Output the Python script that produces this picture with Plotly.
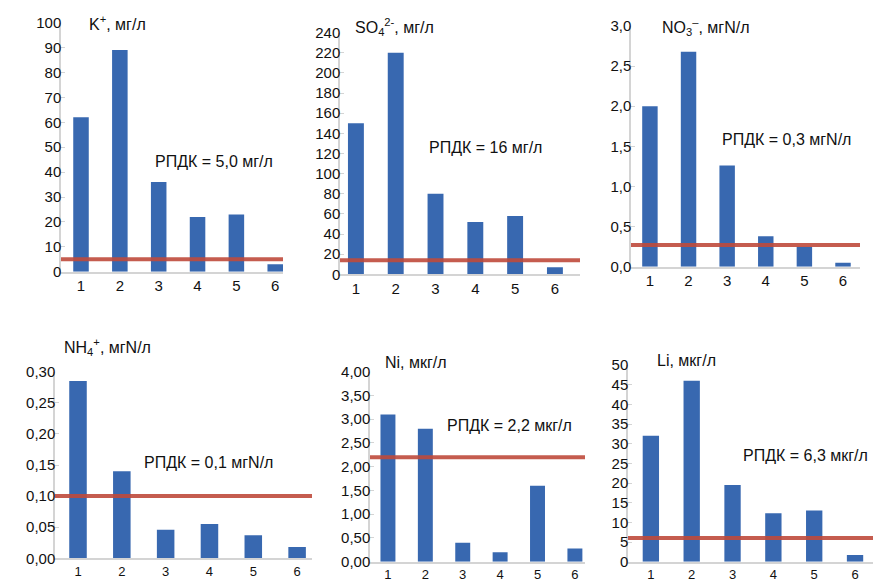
import plotly.graph_objects as go

W, H = 873, 582

stations = [1, 2, 3, 4, 5, 6]

k_vals = [62, 89, 36, 22, 23, 3]
so4_vals = [150, 220, 80, 52, 58, 7]
no3_vals = [2.0, 2.68, 1.26, 0.38, 0.25, 0.05]
nh4_vals = [0.285, 0.14, 0.046, 0.055, 0.037, 0.018]
ni_vals = [3.1, 2.8, 0.4, 0.2, 1.6, 0.28]
li_vals = [32, 46, 19.5, 12.3, 13, 1.7]

# level of the red limit line as drawn
k_lim, so4_lim, no3_lim, nh4_lim, ni_lim, li_lim = 5.0, 14, 0.27, 0.1, 2.2, 6.0

titles = ["K<sup>+</sup>, мг/л", "SO<sub>4</sub><sup>2-</sup>, мг/л", "NO<sub>3</sub><sup>–</sup>, мгN/л",
          "NH<sub>4</sub><sup>+</sup>, мгN/л", "Ni, мкг/л", "Li, мкг/л"]
limits_text = ["РПДК = 5,0 мг/л", "РПДК = 16 мг/л", "РПДК = 0,3 мгN/л",
               "РПДК = 0,1 мгN/л", "РПДК = 2,2 мкг/л", "РПДК = 6,3 мкг/л"]

series = [k_vals, so4_vals, no3_vals, nh4_vals, ni_vals, li_vals]
lims = [k_lim, so4_lim, no3_lim, nh4_lim, ni_lim, li_lim]

# panel layout in pixels: (x0, x1), (ytop, ybottom), x-range, y-range, y-dtick, tickformat, x tick size
panels = [
    dict(px=(61, 283), py=(22.7, 271.7), xr=(0.485, 6.2), yr=(0, 100), dt=10, fmt="d", xs=15),
    dict(px=(340, 580), py=(32.7, 274.3), xr=(0.6, 6.63), yr=(0, 240), dt=20, fmt="d", xs=15),
    dict(px=(631, 860), py=(26, 266.7), xr=(0.51, 6.44), yr=(0, 3), dt=0.5, fmt=".1f", xs=15),
    dict(px=(55, 312), py=(371.7, 558.3), xr=(0.475, 6.34), yr=(0, 0.3), dt=0.05, fmt=".2f", xs=13),
    dict(px=(370, 585), py=(371.7, 561.7), xr=(0.52, 6.27), yr=(0, 4), dt=0.5, fmt=".2f", xs=13),
    dict(px=(628, 873), py=(365, 561.7), xr=(0.44, 6.44), yr=(0, 50), dt=5, fmt="d", xs=13),
]

title_pos = [(87, 23), (353, 27), (660, 27), (62, 347), (383, 362), (655, 360)]
lim_pos = [(153, 161), (427, 147), (720, 139), (142, 463), (445, 425), (741, 455)]

BAR = "#3868b0"
RED = "#bf4b3c"
FONT = "Liberation Sans, Arial, sans-serif"

fig = go.Figure()
layout = dict(
    template="none",
    width=W, height=H, margin=dict(l=0, r=0, t=0, b=0, pad=0),
    paper_bgcolor="white", plot_bgcolor="white", showlegend=False,
    separators=", ", font=dict(family=FONT, size=15, color="#111"),
    shapes=[], annotations=[],
)

for i, (p, vals, lim) in enumerate(zip(panels, series, lims)):
    n = i + 1
    xa = "x" if n == 1 else f"x{n}"
    ya = "y" if n == 1 else f"y{n}"
    fig.add_trace(go.Bar(x=stations, y=vals, xaxis=xa, yaxis=ya, width=0.4,
                         marker=dict(color=BAR, line=dict(width=0))))
    xkey = "xaxis" if n == 1 else f"xaxis{n}"
    ykey = "yaxis" if n == 1 else f"yaxis{n}"
    layout[xkey] = dict(
        domain=[p["px"][0] / W, p["px"][1] / W], range=list(p["xr"]), anchor=ya,
        tickvals=stations, showgrid=False, zeroline=False, showline=True,
        linecolor="#d4d4d4", linewidth=1.5, ticks="", ticklabelstandoff=0,
        automargin=False,
        tickfont=dict(size=p["xs"], family=FONT, color="#111"), fixedrange=True,
    )
    layout[ykey] = dict(
        domain=[1 - p["py"][1] / H, 1 - p["py"][0] / H], range=list(p["yr"]), anchor=xa,
        dtick=p["dt"], tick0=0, tickformat=p["fmt"], showgrid=False, zeroline=False,
        showline=True, linecolor="#d4d4d4", linewidth=1.5, ticks="inside", ticklen=4,
        tickcolor="#d4d4d4", ticklabelstandoff=-5, automargin=False,
        tickfont=dict(size=15, family=FONT, color="#111"), fixedrange=True,
    )
    layout["shapes"].append(dict(
        type="line", xref=f"{xa} domain", yref=ya, x0=0, x1=1, y0=lim, y1=lim,
        line=dict(color=RED, width=4), opacity=0.9, layer="above",
    ))
    tx, ty = title_pos[i]
    layout["annotations"].append(dict(
        text=titles[i], xref="paper", yref="paper", x=tx / W, y=1 - ty / H,
        xanchor="left", yanchor="middle", showarrow=False,
        font=dict(size=16, family=FONT, color="#111"),
    ))
    lx, ly = lim_pos[i]
    layout["annotations"].append(dict(
        text=limits_text[i], xref="paper", yref="paper", x=lx / W, y=1 - ly / H,
        xanchor="left", yanchor="middle", showarrow=False, bgcolor="white",
        font=dict(size=16, family=FONT, color="#111"),
    ))

fig.update_layout(**layout)
fig.write_html("out.html")
